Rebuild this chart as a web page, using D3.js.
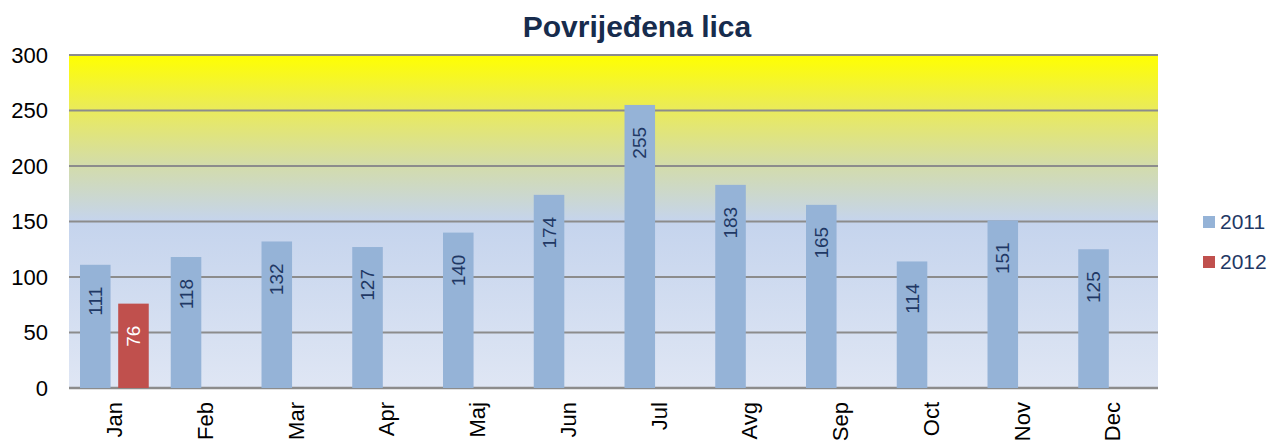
<!DOCTYPE html>
<html>
<head>
<meta charset="utf-8">
<script src="https://cdn.jsdelivr.net/npm/d3@7"></script>
<style>
  body { margin: 0; background: #fff; }
  svg { font-family: Arial, "Liberation Sans", sans-serif; }
</style>
</head>
<body>
<svg></svg>
<script>
const width = 1272;
const height = 441;

const months = ["Jan", "Feb", "Mar", "Apr", "Maj", "Jun", "Jul", "Avg", "Sep", "Oct", "Nov", "Dec"];
const series = ["2011", "2012"];
const values2011 = [111, 118, 132, 127, 140, 174, 255, 183, 165, 114, 151, 125];
const values2012 = [76, null, null, null, null, null, null, null, null, null, null, null];
const yTicks = [0, 50, 100, 150, 200, 250, 300];
const colors = { "2011": "#95b3d7", "2012": "#c0504d" };

const margin = { top: 55, right: 114, bottom: 53, left: 69 };
const innerW = width - margin.left - margin.right;
const innerH = height - margin.top - margin.bottom;

const svg = d3.select("svg")
  .attr("width", width)
  .attr("height", height);

// background gradient of plot area
const defs = svg.append("defs");
const grad = defs.append("linearGradient")
  .attr("id", "bg")
  .attr("x1", 0).attr("y1", 0).attr("x2", 0).attr("y2", 1);
[
  [0, "#ffff00"],
  [0.17, "#e9ea5e"],
  [0.33, "#d3dcaa"],
  [0.5, "#c5d4ed"],
  [1, "#dfe6f4"]
].forEach(s => grad.append("stop").attr("offset", s[0]).attr("stop-color", s[1]));

const g = svg.append("g").attr("transform", `translate(${margin.left},${margin.top})`);

const x = d3.scaleBand().domain(months).range([0, innerW]);
const x1 = d3.scaleBand().domain(series).range([11, x.bandwidth() - 11]).paddingInner(0.2);
const y = d3.scaleLinear().domain([0, 300]).range([innerH, 0]);

g.append("rect")
  .attr("width", innerW)
  .attr("height", innerH)
  .attr("fill", "url(#bg)");

// gridlines
g.selectAll(".grid")
  .data(yTicks)
  .enter()
  .append("line")
  .attr("x1", 0)
  .attr("x2", innerW)
  .attr("y1", d => y(d))
  .attr("y2", d => y(d))
  .attr("stroke", "#8c8c8c")
  .attr("stroke-width", d => d === 0 ? 2.5 : 2);

// y tick labels
g.selectAll(".ytick")
  .data(yTicks)
  .enter()
  .append("text")
  .attr("x", -21)
  .attr("y", d => y(d))
  .attr("dy", "0.35em")
  .attr("text-anchor", "end")
  .attr("font-size", 22)
  .attr("fill", "#000")
  .text(d => d);

// month labels
g.selectAll(".xtick")
  .data(months)
  .enter()
  .append("text")
  .attr("transform", d => `translate(${x(d) + x.bandwidth() / 2},${innerH + 14}) rotate(-90)`)
  .attr("dy", "0.35em")
  .attr("text-anchor", "end")
  .attr("font-size", 22)
  .attr("fill", "#000")
  .text(d => d);

const bars = [];
months.forEach((m, i) => {
  if (values2011[i] != null) bars.push({ m, s: "2011", v: values2011[i] });
  if (values2012[i] != null) bars.push({ m, s: "2012", v: values2012[i] });
});

g.selectAll(".bar")
  .data(bars)
  .enter()
  .append("rect")
  .attr("x", d => x(d.m) + x1(d.s))
  .attr("y", d => y(d.v))
  .attr("width", x1.bandwidth())
  .attr("height", d => innerH - y(d.v))
  .attr("fill", d => colors[d.s]);

// data labels
g.selectAll(".lbl")
  .data(bars)
  .enter()
  .append("text")
  .attr("transform", d => `translate(${x(d.m) + x1(d.s) + x1.bandwidth() / 2},${y(d.v) + 22}) rotate(-90)`)
  .attr("dy", "0.35em")
  .attr("text-anchor", "end")
  .attr("font-size", 19)
  .attr("fill", d => d.s === "2012" ? "#fff" : "#1f3864")
  .text(d => d.v);

// title
svg.append("text")
  .attr("x", 637)
  .attr("y", 37)
  .attr("text-anchor", "middle")
  .attr("font-size", 30)
  .attr("font-weight", "bold")
  .attr("fill", "#172c4d")
  .text("Povrijeđena lica");

// legend
const legend = svg.selectAll(".legend")
  .data(series)
  .enter()
  .append("g")
  .attr("transform", (d, i) => `translate(1203,${222 + i * 40})`);

legend.append("rect")
  .attr("x", 0)
  .attr("y", -6)
  .attr("width", 12)
  .attr("height", 12)
  .attr("fill", d => colors[d]);

legend.append("text")
  .attr("x", 17)
  .attr("dy", "0.35em")
  .attr("font-size", 21)
  .attr("fill", "#1f3864")
  .text(d => d);
</script>
</body>
</html>
